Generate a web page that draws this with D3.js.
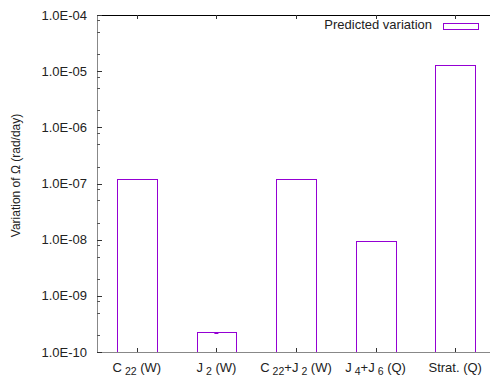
<!DOCTYPE html>
<html>
<head>
<meta charset="utf-8">
<script src="https://cdn.jsdelivr.net/npm/d3@7"></script>
<style>
  body { margin: 0; background: #fff; }
  svg { display: block; font-family: "Liberation Sans", Arial, sans-serif; }
</style>
</head>
<body>
<svg id="chart" width="490" height="376"></svg>
<script>
// categories: [main text, subscript, rest] pieces for enhanced labels
let categories = ['C22 (W)', 'J2 (W)', 'C22+J2 (W)', 'J4+J6 (Q)', 'Strat. (Q)']
let labelParts = [
  [['C', 0], ['22', 1], [' (W)', 0]],
  [['J', 0], ['2', 1], [' (W)', 0]],
  [['C', 0], ['22', 1], ['+J', 0], ['2', 1], [' (W)', 0]],
  [['J', 0], ['4', 1], ['+J', 0], ['6', 1], [' (Q)', 0]],
  [['Strat. (Q)', 0]]
]
let values = [1.19e-7, 2.24e-10, 1.19e-7, 9.35e-9, 1.29e-5]
let errors = [0, 0.02e-10, 0, 0, 0]
let yTicks = [1e-10, 1e-9, 1e-8, 1e-7, 1e-6, 1e-5, 1e-4]
let yMinorMult = [2, 5, 8]
let yLabel = 'Variation of Ω (rad/day)'
let legendLabel = 'Predicted variation'

let svg = d3.select('#chart')
let margin = {left: 97, top: 15, right: 495, bottom: 352}
let color = '#9400d3'

let x = d3.scaleLinear().domain([-0.5, 4.5]).range([margin.left, margin.right])
let y = d3.scaleLog().domain([1e-10, 1e-4]).range([margin.bottom, margin.top])
let boxW = 0.5

// bars
svg.append('g').selectAll('rect')
  .data(values)
  .join('rect')
  .attr('x', (d, i) => Math.round(x(i - boxW / 2)) + 0.5)
  .attr('width', (d, i) => Math.round(x(i + boxW / 2)) - Math.round(x(i - boxW / 2)))
  .attr('y', d => Math.round(y(d)) + 0.5)
  .attr('height', d => margin.bottom - Math.round(y(d)))
  .style('fill', 'none')
  .style('stroke', color)
  .style('stroke-width', 1)

// tiny error bar marks
svg.append('g').selectAll('line')
  .data(values.map((v, i) => ({v: v, e: errors[i], i: i})).filter(d => d.e > 0))
  .join('line')
  .attr('x1', d => x(d.i) - 2)
  .attr('x2', d => x(d.i) + 2)
  .attr('y1', d => Math.round(y(d.v)) + 1.5)
  .attr('y2', d => Math.round(y(d.v)) + 1.5)
  .style('stroke', color)
  .style('stroke-width', 1)

// borders
svg.append('line')
  .attr('x1', margin.left).attr('x2', 490)
  .attr('y1', margin.top + 0.5).attr('y2', margin.top + 0.5)
  .style('stroke', '#000')
svg.append('line')
  .attr('x1', margin.left + 0.5).attr('x2', margin.left + 0.5)
  .attr('y1', margin.top).attr('y2', margin.bottom + 0.5)
  .style('stroke', '#888')
svg.append('line')
  .attr('x1', margin.left).attr('x2', 490)
  .attr('y1', margin.bottom + 0.5).attr('y2', margin.bottom + 0.5)
  .style('stroke', '#888')

// y ticks (major + minor)
let minor = []
yTicks.slice(0, -1).forEach(t => yMinorMult.forEach(m => minor.push(t * m)))

svg.append('g').selectAll('line.major')
  .data(yTicks)
  .join('line')
  .attr('x1', margin.left).attr('x2', margin.left + 5)
  .attr('y1', d => Math.round(y(d)) + 0.5).attr('y2', d => Math.round(y(d)) + 0.5)
  .style('stroke', '#333')

svg.append('g').selectAll('line.minor')
  .data(minor)
  .join('line')
  .attr('x1', margin.left).attr('x2', margin.left + 3)
  .attr('y1', d => Math.round(y(d)) + 0.5).attr('y2', d => Math.round(y(d)) + 0.5)
  .style('stroke', '#555')

svg.append('g').selectAll('text')
  .data(yTicks)
  .join('text')
  .attr('x', 87)
  .attr('y', d => y(d) + 4.5)
  .attr('text-anchor', 'end')
  .style('font-size', '13px')
  .style('fill', '#222')
  .text(d => '1.0E-' + String(-Math.round(Math.log10(d))).padStart(2, '0'))

// x ticks bottom and top
svg.append('g').selectAll('line')
  .data(categories)
  .join('line')
  .attr('x1', (d, i) => Math.round(x(i)) + 0.5).attr('x2', (d, i) => Math.round(x(i)) + 0.5)
  .attr('y1', margin.bottom).attr('y2', margin.bottom - 4)
  .style('stroke', '#333')
svg.append('g').selectAll('line')
  .data(categories)
  .join('line')
  .attr('x1', (d, i) => Math.round(x(i)) + 0.5).attr('x2', (d, i) => Math.round(x(i)) + 0.5)
  .attr('y1', margin.top).attr('y2', margin.top + 4)
  .style('stroke', '#333')

// x labels with subscripts
let xl = svg.append('g').selectAll('text')
  .data(labelParts)
  .join('text')
  .attr('x', (d, i) => x(i))
  .attr('y', 372)
  .attr('text-anchor', 'middle')
  .style('font-size', '13px')
  .style('fill', '#222')

xl.each(function(parts) {
  let t = d3.select(this)
  parts.forEach((p, k) => {
    let prevSub = k > 0 && parts[k - 1][1]
    t.append('tspan')
      .attr('dx', p[1] ? 3 : 0)
      .attr('dy', p[1] ? 2.5 : (prevSub ? -2.5 : 0))
      .style('font-size', p[1] ? '10.5px' : '13px')
      .text(p[0])
  })
})

// y axis label
svg.append('text')
  .attr('transform', 'translate(20,' + ((margin.top + margin.bottom) / 2 - 8) + ') rotate(-90)')
  .attr('text-anchor', 'middle')
  .style('font-size', '12px')
  .style('fill', '#222')
  .text(yLabel)

// legend
svg.append('text')
  .attr('x', 432)
  .attr('y', 29)
  .attr('text-anchor', 'end')
  .style('font-size', '13px')
  .style('fill', '#222')
  .text(legendLabel)
svg.append('rect')
  .attr('x', 443.5).attr('y', 23.5)
  .attr('width', 35).attr('height', 6)
  .style('fill', 'none')
  .style('stroke', color)
</script>
</body>
</html>
